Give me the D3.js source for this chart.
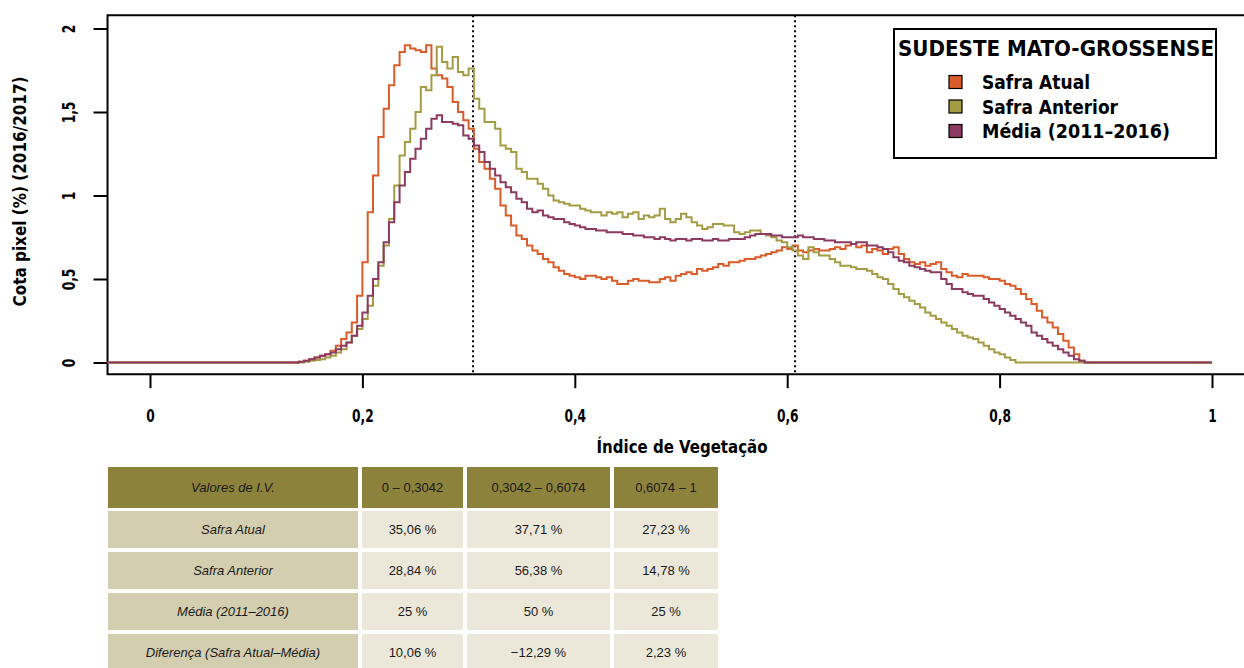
<!DOCTYPE html>
<html>
<head>
<meta charset="utf-8">
<script src="https://cdn.jsdelivr.net/npm/d3@7"></script>
<style>
  html, body { margin: 0; padding: 0; background: #fff; overflow: hidden; }
  svg { display: block; }
  .bold { font-family: "Liberation Sans Narrow", "DejaVu Sans Condensed", "Liberation Sans", sans-serif; font-weight: bold; }
  .cell { font-family: "Liberation Sans", Arial, sans-serif; font-size: 13px; fill: #1a1a1a; }
</style>
</head>
<body>
<div id="chart"></div>
<script>
// Vegetation index grid: values start at ivStart, one every ivStep
const ivStart = 0.13, ivStep = 0.005;
// lines are zero at these outer ends
const ivEnds = [-0.04, 1];

const seriesNames = ["Safra Atual", "Safra Anterior", "Média (2011\u20132016)"];
const seriesColors = ["#d95c2a", "#a49c44", "#8c3b60"];

const safraAtual = [
  0, 0, 0.005, 0.01, 0.02, 0.03, 0.04, 0.05, 0.07, 0.1,
  0.14, 0.18, 0.24, 0.4, 0.6, 0.9, 1.12, 1.35, 1.52, 1.66,
  1.78, 1.86, 1.9, 1.88, 1.87, 1.86, 1.9, 1.76, 1.72, 1.7,
  1.65, 1.56, 1.5, 1.45, 1.4, 1.28, 1.2, 1.16, 1.1, 1.04,
  0.94, 0.88, 0.82, 0.76, 0.74, 0.7, 0.67, 0.65, 0.62, 0.6,
  0.57, 0.55, 0.53, 0.52, 0.51, 0.5, 0.52, 0.52, 0.51, 0.5,
  0.51, 0.49, 0.47, 0.47, 0.49, 0.5, 0.49, 0.49, 0.48, 0.48,
  0.5, 0.51, 0.49, 0.52, 0.53, 0.54, 0.53, 0.56, 0.55, 0.56,
  0.57, 0.59, 0.58, 0.6, 0.6, 0.61, 0.62, 0.62, 0.63, 0.64,
  0.65, 0.66, 0.67, 0.69, 0.68, 0.7, 0.67, 0.66, 0.67, 0.68,
  0.67, 0.67, 0.68, 0.69, 0.68, 0.7, 0.71, 0.69, 0.7, 0.66,
  0.68, 0.67, 0.65, 0.68, 0.69, 0.65, 0.62, 0.6, 0.59, 0.6,
  0.58, 0.59, 0.6, 0.56, 0.54, 0.52, 0.51, 0.53, 0.52, 0.52,
  0.52, 0.51, 0.5, 0.5, 0.49, 0.47, 0.46, 0.44, 0.41, 0.38,
  0.35, 0.31, 0.27, 0.24, 0.21, 0.17, 0.13, 0.09, 0.05, 0.01,
  0, 0, 0
];

const safraAnterior = [
  0, 0, 0, 0.005, 0.01, 0.015, 0.02, 0.03, 0.04, 0.06,
  0.08, 0.12, 0.16, 0.2, 0.26, 0.34, 0.46, 0.58, 0.7, 0.86,
  1.06, 1.24, 1.32, 1.4, 1.5, 1.65, 1.63, 1.72, 1.89, 1.8,
  1.76, 1.83, 1.74, 1.72, 1.76, 1.58, 1.52, 1.44, 1.44, 1.4,
  1.3, 1.28, 1.26, 1.16, 1.14, 1.1, 1.1, 1.07, 1.04, 1.0,
  0.97, 0.96, 0.95, 0.94, 0.94, 0.92, 0.91, 0.9, 0.9, 0.88,
  0.9, 0.89, 0.9, 0.87, 0.89, 0.9, 0.86, 0.88, 0.87, 0.88,
  0.92, 0.86, 0.84, 0.86, 0.89, 0.87, 0.84, 0.82, 0.8, 0.81,
  0.83, 0.83, 0.82, 0.82, 0.78, 0.77, 0.78, 0.79, 0.79, 0.77,
  0.76, 0.75, 0.73, 0.72, 0.69, 0.67, 0.64, 0.62, 0.69, 0.66,
  0.64, 0.64, 0.62, 0.6, 0.58, 0.58, 0.57, 0.56, 0.56, 0.55,
  0.53, 0.51, 0.5, 0.47, 0.44, 0.41, 0.39, 0.37, 0.35, 0.33,
  0.3, 0.28, 0.26, 0.24, 0.22, 0.2, 0.18, 0.16, 0.15, 0.14,
  0.12, 0.1, 0.08, 0.06, 0.05, 0.03, 0.015, 0, 0, 0,
  0, 0, 0, 0, 0, 0, 0, 0, 0, 0,
  0, 0, 0
];

const media = [
  0, 0, 0.005, 0.01, 0.02, 0.03, 0.04, 0.05, 0.06, 0.08,
  0.1, 0.12, 0.16, 0.22, 0.3, 0.4, 0.5, 0.6, 0.72, 0.84,
  0.96, 1.06, 1.14, 1.22, 1.28, 1.34, 1.4, 1.46, 1.48, 1.44,
  1.44, 1.43, 1.42, 1.36, 1.34, 1.3, 1.26, 1.2, 1.16, 1.12,
  1.08, 1.05, 1.02, 0.98, 0.96, 0.92, 0.9, 0.91, 0.88, 0.87,
  0.86, 0.86, 0.84, 0.83, 0.82, 0.81, 0.8, 0.8, 0.79, 0.79,
  0.78, 0.78, 0.78, 0.77, 0.77, 0.76, 0.76, 0.75, 0.75, 0.74,
  0.75, 0.74, 0.73, 0.74, 0.74, 0.73, 0.74, 0.74, 0.73, 0.73,
  0.74, 0.73, 0.73, 0.74, 0.74, 0.74, 0.75, 0.76, 0.77, 0.77,
  0.77, 0.76, 0.76, 0.75, 0.75, 0.75, 0.76, 0.75, 0.75, 0.74,
  0.74, 0.73, 0.73, 0.72, 0.72, 0.72, 0.71, 0.72, 0.72, 0.7,
  0.7, 0.69, 0.68, 0.66, 0.63, 0.61, 0.6, 0.58, 0.57, 0.56,
  0.55, 0.54, 0.54, 0.5, 0.47, 0.44, 0.44, 0.42, 0.41, 0.4,
  0.4, 0.38, 0.36, 0.34, 0.32, 0.3, 0.28, 0.26, 0.24, 0.22,
  0.18, 0.16, 0.14, 0.12, 0.1, 0.08, 0.06, 0.04, 0.02, 0.01,
  0, 0, 0
];

// class limits (dotted lines)
const ivLimits = [0.3042, 0.6074];

const xTicks = [0, 0.2, 0.4, 0.6, 0.8, 1];
const yTicks = [0, 0.5, 1, 1.5, 2];

const legendTitle = "SUDESTE MATO-GROSSENSE";
const xLabel = "Índice de Vegetação";
const yLabel = "Cota pixel (%) (2016/2017)";

// table
const tableHeader = ["Valores de I.V.", "0 \u2013 0,3042", "0,3042 \u2013 0,6074", "0,6074 \u2013 1"];
const tableRowLabels = ["Safra Atual", "Safra Anterior", "Média (2011\u20132016)", "Diferença (Safra Atual\u2013Média)"];
const tableValues = [
  ["35,06 %", "37,71 %", "27,23 %"],
  ["28,84 %", "56,38 %", "14,78 %"],
  ["25 %", "50 %", "25 %"],
  ["10,06 %", "\u221212,29 %", "2,23 %"]
];

const W = 1244, H = 668;
const svg = d3.select("#chart").append("svg")
  .attr("width", W).attr("height", H);

const x = d3.scaleLinear().domain([0, 1]).range([150, 1212]);
const y = d3.scaleLinear().domain([0, 2]).range([362.5, 28.5]);

const fmt = d => String(d).replace(".", ",");

// plot box (right side runs off the page, as in the original)
const boxL = x(-0.04), boxR = x(1.04), boxT = y(2.08), boxB = y(-0.07);
svg.append("path")
  .attr("d", `M${boxR},${boxT}H${boxL}V${boxB}H${boxR}`)
  .attr("fill", "none").attr("stroke", "#000").attr("stroke-width", 2);

// x axis
const xAxis = svg.append("g")
  .attr("transform", `translate(0,${boxB})`)
  .call(d3.axisBottom(x).tickValues(xTicks).tickSize(14).tickPadding(22).tickFormat(fmt));
xAxis.select(".domain").remove();
xAxis.selectAll(".tick line").attr("stroke-width", 2);
xAxis.selectAll(".tick text")
  .attr("class", "bold").attr("font-size", 17).attr("fill", "#000")
  .attr("transform", "scale(0.8,1)");

// y axis, labels parallel to the axis
const yAxis = svg.append("g")
  .attr("transform", `translate(${boxL},0)`)
  .call(d3.axisLeft(y).tickValues(yTicks).tickSize(14).tickFormat(""));
yAxis.select(".domain").remove();
yAxis.selectAll(".tick line").attr("stroke-width", 2);
yAxis.selectAll(".tick").append("text")
  .attr("class", "bold")
  .attr("font-size", 17)
  .attr("fill", "#000")
  .attr("text-anchor", "middle")
  .attr("transform", "translate(-38,0) rotate(-90) scale(0.8,1)")
  .attr("dy", "0.35em")
  .text(fmt);

// axis titles
svg.append("text")
  .attr("class", "bold")
  .attr("x", 682).attr("y", 453)
  .attr("text-anchor", "middle")
  .attr("font-size", 18)
  .attr("textLength", 171).attr("lengthAdjust", "spacingAndGlyphs")
  .text(xLabel);

svg.append("text")
  .attr("class", "bold")
  .attr("transform", `translate(26,${(y(0) + y(2)) / 2 - 4}) rotate(-90)`)
  .attr("text-anchor", "middle")
  .attr("font-size", 17)
  .attr("textLength", 230).attr("lengthAdjust", "spacingAndGlyphs")
  .text(yLabel);

// dotted class limits
svg.selectAll(".limit")
  .data(ivLimits)
  .enter().append("line")
    .attr("class", "limit")
    .attr("x1", d => x(d)).attr("x2", d => x(d))
    .attr("y1", boxT).attr("y2", boxB)
    .attr("stroke", "#000").attr("stroke-width", 2)
    .attr("stroke-dasharray", "2,3");

// series lines
const toPoints = vals => [[ivEnds[0], 0]]
  .concat(vals.map((v, i) => [ivStart + i * ivStep, v]))
  .concat([[ivEnds[1], 0]]);

const line = d3.line()
  .x(d => x(d[0]))
  .y(d => y(d[1]))
  .curve(d3.curveStepAfter);

[safraAtual, safraAnterior, media].forEach((vals, i) => {
  svg.append("path")
    .datum(toPoints(vals))
    .attr("fill", "none")
    .attr("stroke", seriesColors[i])
    .attr("stroke-width", 2)
    .attr("d", line);
});

// legend
const lg = svg.append("g");
lg.append("rect")
  .attr("x", 894).attr("y", 29).attr("width", 322).attr("height", 129)
  .attr("fill", "#fff").attr("stroke", "#000").attr("stroke-width", 2);
lg.append("text")
  .attr("class", "bold")
  .attr("x", 898).attr("y", 56)
  .attr("font-size", 21)
  .attr("textLength", 316).attr("lengthAdjust", "spacingAndGlyphs")
  .text(legendTitle);

const labelWidths = [108, 136, 188];
const legendRows = lg.selectAll(".lrow")
  .data(seriesNames)
  .enter().append("g")
  .attr("transform", (d, i) => `translate(0,${82 + i * 24.5})`);
legendRows.append("rect")
  .attr("x", 949).attr("y", -6.5).attr("width", 13).attr("height", 13)
  .attr("fill", (d, i) => seriesColors[i])
  .attr("stroke", "#000").attr("stroke-width", 1.2);
legendRows.append("text")
  .attr("class", "bold")
  .attr("x", 982).attr("y", 7)
  .attr("font-size", 19)
  .attr("textLength", (d, i) => labelWidths[i]).attr("lengthAdjust", "spacingAndGlyphs")
  .text(d => d);

// table
const colX = [108, 362, 467, 614];
const colW = [250, 101, 143, 104];
const rowY = [467, 511, 552, 593, 634];
const rowH = [41, 37, 37, 37, 37];

const tbl = svg.append("g");
const allRows = [tableHeader].concat(tableRowLabels.map((lab, r) => [lab].concat(tableValues[r])));
allRows.forEach((cells, r) => {
  cells.forEach((txt, c) => {
    let fill = "#ebe8da";
    if (r === 0) fill = "#8d823c";
    else if (c === 0) fill = "#d4ceb0";
    tbl.append("rect")
      .attr("x", colX[c]).attr("y", rowY[r])
      .attr("width", colW[c]).attr("height", rowH[r])
      .attr("fill", fill);
    tbl.append("text")
      .attr("class", "cell")
      .attr("x", colX[c] + colW[c] / 2)
      .attr("y", rowY[r] + rowH[r] / 2)
      .attr("dy", "0.35em")
      .attr("text-anchor", "middle")
      .attr("font-style", c === 0 ? "italic" : "normal")
      .text(txt);
  });
});
</script>
</body>
</html>
